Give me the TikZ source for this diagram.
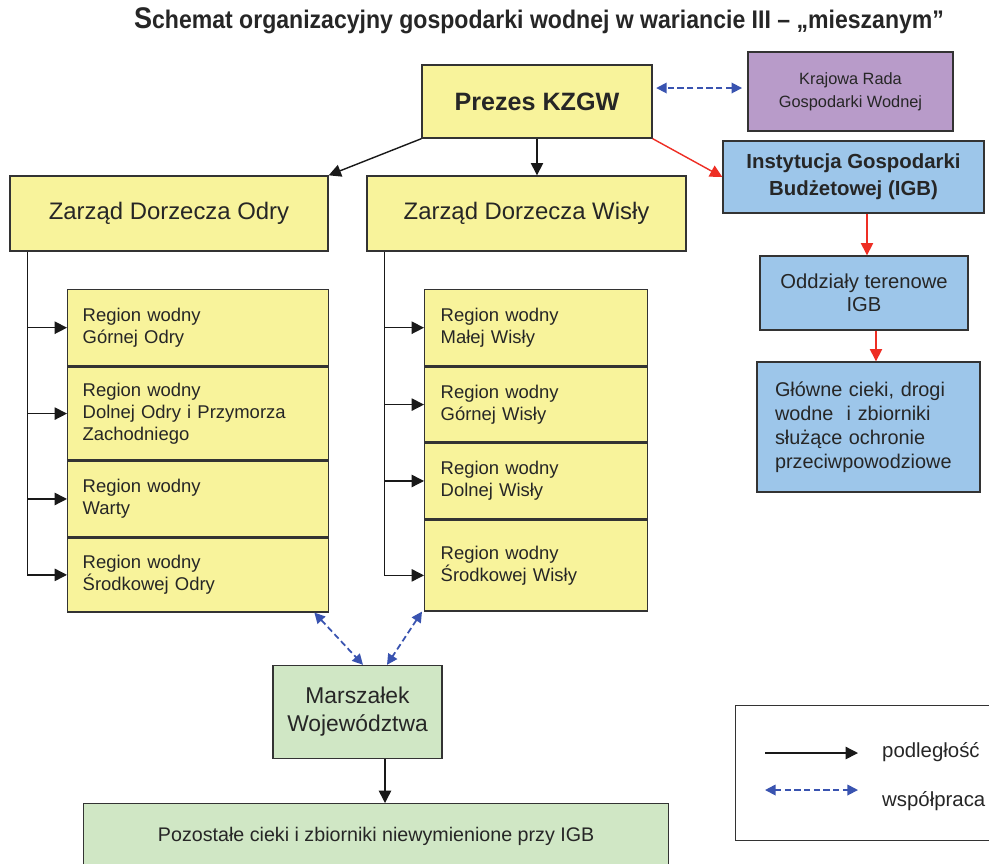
\documentclass[tikz,border=0pt]{standalone}
\usepackage{fontspec}
\setmainfont{Liberation Sans}
\usepackage{tikz}
\usetikzlibrary{arrows.meta,positioning}
\definecolor{zolty}{HTML}{F8F39B}
\definecolor{fiolet}{HTML}{B89BC9}
\definecolor{niebieski}{HTML}{9DC6EA}
\definecolor{zielony}{HTML}{D0E7C5}
\definecolor{wspolny}{HTML}{3953B0}
\definecolor{czerwony}{HTML}{EE2E24}

\tikzset{
    box/.style={draw=black!80, line width=0.8pt, text=black!85, align=center, inner sep=2pt},
    yel/.style={box, fill=zolty},
    regodra/.style={yel, align=left, text width=4.62cm, inner xsep=0.3cm,
        font=\fontsize{10.5}{12.5}\selectfont, minimum height=#1},
    regwisla/.style={yel, align=left, text width=3.82cm, inner xsep=0.32cm,
        font=\fontsize{10.5}{12.5}\selectfont, minimum height=#1},
    sub/.style={draw=black!90, line width=0.8pt, -{Triangle[length=7pt,width=7pt]}},
    subred/.style={draw=czerwony, line width=0.8pt, -{Triangle[length=7pt,width=7pt]}},
    coop/.style={draw=wspolny, line width=1pt, dash pattern=on 3.5pt off 2pt,
        {Triangle[length=6pt,width=6pt]}-{Triangle[length=6pt,width=6pt]}}
}

\begin{document}
\begin{tikzpicture}[x=0.02cm, y=-0.02cm]
    \clip (0,0) rectangle (989,863);
    \fill[white] (0,0) rectangle (989,863);

    % title
    \node[font=\bfseries\fontsize{14.5}{16}\selectfont, text=black!85] (tytul) at (539,21)
        {\scalebox{0.905}[1]{{\fontsize{17}{17}\selectfont S}chemat organizacyjny gospodarki wodnej w wariancie III – „mieszanym”}};

    % top level
    \node[yel, font=\bfseries\fontsize{14.3}{16}\selectfont, minimum width=4.6cm, minimum height=1.46cm] (prezes) at (537,101.5) {Prezes KZGW};
    \node[box, fill=fiolet, font=\fontsize{9.3}{13}\selectfont, minimum width=4.1cm, minimum height=1.58cm] (rada) at (850.5,91.5) {Krajowa Rada\\Gospodarki Wodnej};
    \node[box, fill=niebieski, font=\bfseries\fontsize{11.6}{15.5}\selectfont, minimum width=5.22cm, minimum height=1.44cm] (igb) at (853.5,177) {Instytucja Gospodarki\\Budżetowej (IGB)};
    \node[box, fill=niebieski, font=\fontsize{11.5}{13}\selectfont, minimum width=4.16cm, minimum height=1.48cm] (oddz) at (864,293) {Oddziały terenowe\\IGB};
    \node[box, fill=niebieski, font=\fontsize{11.3}{13.6}\selectfont, align=left, text width=3.74cm, inner xsep=0.36cm, minimum height=2.6cm] (glowne) at (868.5,427) {Główne cieki, drogi\\wodne\ \ i zbiorniki\\służące ochronie\\przeciwpowodziowe};

    % river basins
    \node[yel, font=\fontsize{13.6}{16}\selectfont, minimum width=6.36cm, minimum height=1.5cm] (zodra) at (169,213.5) {Zarząd Dorzecza Odry};
    \node[yel, font=\fontsize{13.6}{16}\selectfont, minimum width=6.38cm, minimum height=1.5cm] (zwisla) at (526.5,213.5) {Zarząd Dorzecza Wisły};

    \node[regodra=1.52cm, anchor=north west] (o1) at (67,289) {Region wodny\\Górnej Odry};
    \node[regodra=1.86cm, below=0pt of o1] (o2) {Region wodny\\Dolnej Odry i Przymorza\\Zachodniego};
    \node[regodra=1.5cm, below=0pt of o2] (o3) {Region wodny\\Warty};
    \node[regodra=1.48cm, below=0pt of o3] (o4) {Region wodny\\Środkowej Odry};

    \node[regwisla=1.52cm, anchor=north west] (w1) at (424,289) {Region wodny\\Małej Wisły};
    \node[regwisla=1.5cm, below=0pt of w1] (w2) {Region wodny\\Górnej Wisły};
    \node[regwisla=1.5cm, below=0pt of w2] (w3) {Region wodny\\Dolnej Wisły};
    \node[regwisla=1.82cm, below=0pt of w3] (w4) {Region wodny\\Środkowej Wisły};

    % voivodeship
    \node[box, fill=zielony, font=\fontsize{13}{15.9}\selectfont, minimum width=3.38cm, minimum height=1.86cm] (marsz) at (357.5,712) {Marszałek\\Województwa};
    \node[box, fill=zielony, font=\fontsize{11.2}{13}\selectfont, minimum width=11.7cm, minimum height=1.3cm, anchor=north west] (pozost) at (83,803) {Pozostałe cieki i zbiorniki niewymienione przy IGB};

    % connectors
    \draw[sub] (prezes.south west) -- (zodra.north east);
    \draw[sub] (prezes.south) -- (prezes.south |- zwisla.north);
    \draw[subred] (prezes.south east) -- (igb.west);
    \draw[subred] ([xshift=0.27cm]igb.south) -- ([xshift=0.27cm]igb.south |- oddz.north);
    \draw[subred] ([xshift=0.24cm]oddz.south) -- ([xshift=0.24cm]oddz.south |- glowne.north);
    \draw[coop, shorten <=3pt, shorten >=2pt] ([yshift=0.07cm]rada.west) -- ([yshift=0.07cm]rada.west -| prezes.east);

    \coordinate (ot) at ([xshift=0.36cm]zodra.south west);
    \draw[draw=black!90, line width=0.8pt] (ot) -- (ot |- o4.west);
    \foreach \r in {o1,o2,o3,o4}
        \draw[sub] (ot |- \r.west) -- (\r.west);

    \coordinate (wt) at ([xshift=0.36cm]zwisla.south west);
    \draw[draw=black!90, line width=0.8pt] (wt) -- ([yshift=-0.2cm]wt |- w4.west);
    \foreach \r/\dy in {w1/0,w2/0,w3/0,w4/-0.2}
        \draw[sub] ([yshift=\dy cm]wt |- \r.west) -- ([yshift=\dy cm]\r.west);

    \draw[coop] ([xshift=-0.3cm]o4.south east) -- ([xshift=0.11cm]marsz.north);
    \draw[coop] ([xshift=-0.04cm]w4.south west) -- ([xshift=0.59cm]marsz.north);
    \draw[sub] ([xshift=0.55cm]marsz.south) -- ([xshift=0.55cm]marsz.south |- pozost.north);

    % legend
    \node[draw=black!80, line width=0.8pt, fill=white, minimum width=5.3cm, minimum height=2.7cm, anchor=north west] (legenda) at (735,705) {};
    \coordinate (la1) at (765,753);
    \coordinate (la2) at (858,753);
    \coordinate (lb1) at (765,790);
    \coordinate (lb2) at (858,790);
    \draw[sub] (la1) -- (la2);
    \draw[coop] (lb1) -- (lb2);
    \node[anchor=west, font=\fontsize{11.6}{13}\selectfont, text=black!85] (tpodl) at (876,752) {podległość};
    \node[anchor=west, font=\fontsize{11.6}{13}\selectfont, text=black!85] (twsp) at (876,801) {współpraca};
\end{tikzpicture}
\end{document}
